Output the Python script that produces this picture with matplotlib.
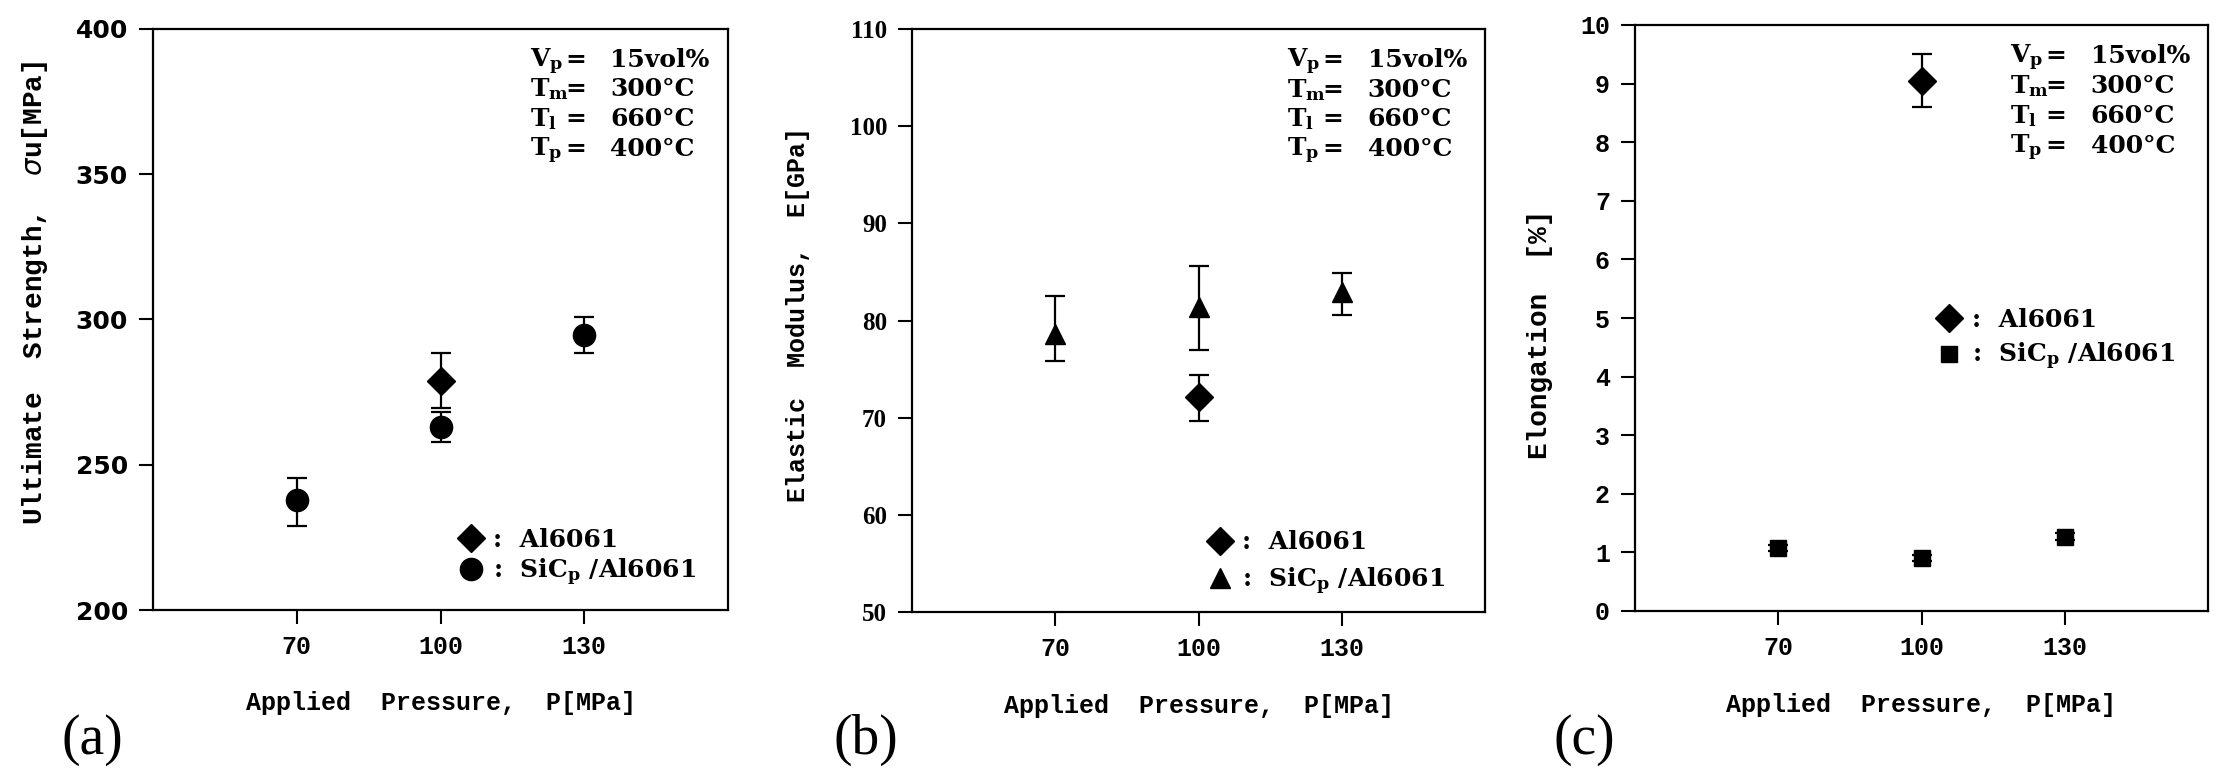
import matplotlib
matplotlib.use("Agg")
import matplotlib.pyplot as plt
from matplotlib.lines import Line2D

# Dados
pressao_al = [100]
pressao_sic = [70, 100, 130]

# (a) resistencia ultima [MPa]
uts_al = [279.0]
uts_al_min = [269.5]
uts_al_max = [288.3]
uts_sic = [237.7, 263.0, 294.6]
uts_sic_min = [228.9, 258.0, 288.6]
uts_sic_max = [245.5, 268.0, 300.7]

# (b) modulo elastico [GPa]
e_al = [72.1]
e_al_min = [69.7]
e_al_max = [74.4]
e_sic = [78.6, 81.4, 82.9]
e_sic_min = [75.8, 77.0, 80.6]
e_sic_max = [82.5, 85.6, 84.9]

# (c) alongamento [%]
el_al = [9.05]
el_al_min = [8.6]
el_al_max = [9.5]
el_sic = [1.07, 0.90, 1.27]
el_sic_min = [1.02, 0.85, 1.21]
el_sic_max = [1.12, 0.95, 1.33]

xticks = [70, 100, 130]
nomes_cond = [r"$\mathregular{V_p}$", r"$\mathregular{T_m}$", r"$\mathregular{T_l}$", r"$\mathregular{T_p}$"]
valores_cond = ["15vol%", "300°C", "660°C", "400°C"]

FONTE_EIXO = "Liberation Mono"
FONTE_TEXTO = "DejaVu Serif"

W, H = 2218, 772
fig = plt.figure(figsize=(W / 100, H / 100), dpi=100)


def caixa(x0, x1, y0, y1):
    return [x0 / W, (H - y1) / H, (x1 - x0) / W, (y1 - y0) / H]


def erro(v, vmin, vmax):
    return [[a - b for a, b in zip(v, vmin)], [c - a for a, c in zip(v, vmax)]]


def painel(ax, ylim, yticks, ylabel, ylab_pos, ylab_size, fonte_ytick, letra, letra_x):
    ax.set_xlim(40, 160)
    ax.set_ylim(*ylim)
    ax.set_xticks(xticks)
    ax.set_yticks(yticks)
    ax.tick_params(direction="out", length=10, width=1.5, pad=8, labelsize=18)
    for s in ax.spines.values():
        s.set_linewidth(1.6)
    for lab in ax.get_xticklabels():
        lab.set_fontfamily(FONTE_EIXO)
        lab.set_fontweight("bold")
    for lab in ax.get_yticklabels():
        lab.set_fontfamily(fonte_ytick)
        lab.set_fontweight("bold")
    ax.set_xlabel("Applied  Pressure,  P[MPa]", fontsize=18, family=FONTE_EIXO, fontweight="bold")
    ax.xaxis.set_label_coords(0.5, -0.14)
    ax.set_ylabel(ylabel, fontsize=ylab_size, family=FONTE_EIXO, fontweight="bold", va="center")
    ax.yaxis.set_label_coords(*ylab_pos)

    # condicoes do processo
    for i, (n, v) in enumerate(zip(nomes_cond, valores_cond)):
        y = 0.935 - i * 0.051
        ax.text(0.655, y, n, transform=ax.transAxes, fontsize=18, family=FONTE_TEXTO,
                fontweight="bold", va="baseline")
        ax.text(0.735, y, "=", transform=ax.transAxes, fontsize=18, family=FONTE_TEXTO,
                fontweight="bold", va="baseline", ha="center")
        ax.text(0.795, y, v, transform=ax.transAxes, fontsize=18, family=FONTE_TEXTO,
                fontweight="bold", va="baseline")

    fig.text(letra_x / W, (H - 740) / H, letra, fontsize=40, family="Liberation Serif", va="center")


ax_a = fig.add_axes(caixa(153, 728, 29, 610))
ax_b = fig.add_axes(caixa(912, 1485, 29, 612))
ax_c = fig.add_axes(caixa(1635, 2208, 25, 611))

kw = dict(color="black", ecolor="black", elinewidth=1.6, capsize=7, capthick=1.6, linestyle="none")

# (a)
ax_a.errorbar(pressao_al, uts_al, yerr=erro(uts_al, uts_al_min, uts_al_max), marker="D", ms=14, **kw)
ax_a.errorbar(pressao_sic, uts_sic, yerr=erro(uts_sic, uts_sic_min, uts_sic_max), marker="o", ms=16, **kw)
painel(ax_a, (200, 400), [200, 250, 300, 350, 400], "Ultimate  Strength,  $\\sigma$u[MPa]",
       (-0.205, 0.546), 20, "DejaVu Sans", "(a)", 62)

# (b)
ax_b.errorbar(pressao_al, e_al, yerr=erro(e_al, e_al_min, e_al_max), marker="D", ms=14, **kw)
ax_b.errorbar(pressao_sic, e_sic, yerr=erro(e_sic, e_sic_min, e_sic_max), marker="^", ms=14, **kw)
painel(ax_b, (50, 110), list(range(50, 111, 10)), "Elastic  Modulus,  E[GPa]",
       (-0.199, 0.511), 18, "Liberation Serif", "(b)", 833)

# (c)
ax_c.errorbar(pressao_al, el_al, yerr=erro(el_al, el_al_min, el_al_max), marker="D", ms=14, **kw)
ax_c.errorbar(pressao_sic, el_sic, yerr=erro(el_sic, el_sic_min, el_sic_max), marker="s", ms=12, **kw)
painel(ax_c, (0, 10), list(range(0, 11)), "Elongation  [%]",
       (-0.166, 0.473), 20, FONTE_EIXO, "(c)", 1553)

# legendas
legendas = [
    (ax_a, "o", 16, (0.531, 0.09), 0.2),
    (ax_b, "^", 14, (0.515, 0.083), 0.45),
    (ax_c, "s", 12, (0.527, 0.462), 0.35),
]
for ax, mk, ms, pos, esp in legendas:
    handles = [
        Line2D([], [], marker="D", ms=14, color="black", linestyle="none"),
        Line2D([], [], marker=mk, ms=ms, color="black", linestyle="none"),
    ]
    labels = [":  Al6061", ":  $\\mathregular{SiC_p}$ /Al6061"]
    ax.legend(handles, labels, loc="center left", bbox_to_anchor=pos, frameon=False,
              borderpad=0, borderaxespad=0, handlelength=1.0, handletextpad=0.4,
              labelspacing=esp, prop={"family": FONTE_TEXTO, "weight": "bold", "size": 18})

fig.savefig("out.png", dpi=100, facecolor="white")
